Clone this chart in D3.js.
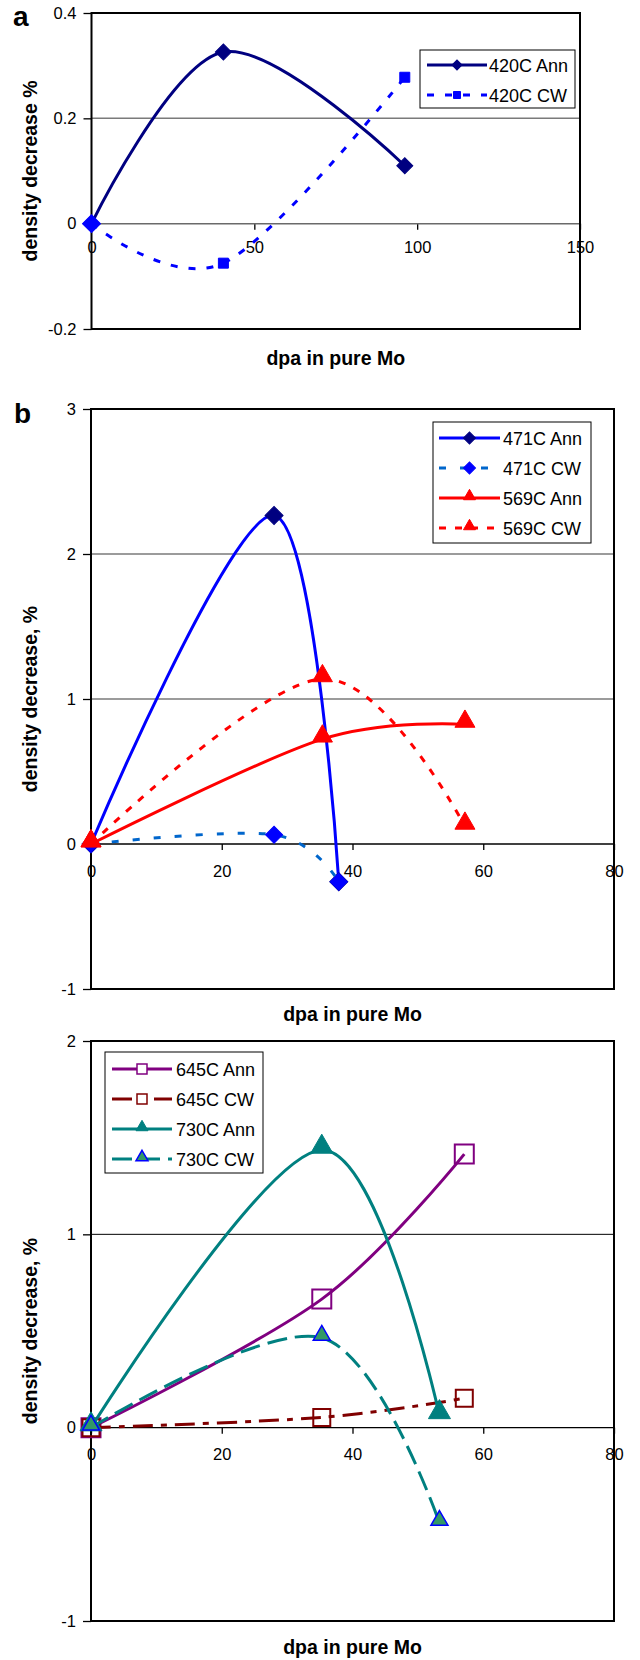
<!DOCTYPE html>
<html><head><meta charset="utf-8">
<script src="https://cdn.jsdelivr.net/npm/d3@7/dist/d3.min.js"></script>
<style>
body{margin:0;background:#fff}
svg{display:block}
text{font-family:"Liberation Sans",Arial,Helvetica,sans-serif;fill:#000}
</style>
</head><body>
<svg id="chart" width="640" height="1660"></svg>
<script>
// ---------- data ----------
const xTicksA = [0, 50, 100, 150];
const yTicksA = [-0.2, 0, 0.2, 0.4];
const xTicksBC = [0, 20, 40, 60, 80];
const yTicksB = [-1, 0, 1, 2, 3];
const yTicksC = [-1, 0, 1, 2];

const seriesNamesA = ["420C Ann", "420C CW"];
const seriesNamesB = ["471C Ann", "471C CW", "569C Ann", "569C CW"];
const seriesNamesC = ["645C Ann", "645C CW", "730C Ann", "730C CW"];

const dpa420 = [0, 40.5, 96.2];
const dens420Ann = [0, 0.326, 0.110];
const dens420CW = [0, -0.075, 0.278];

const dpa471 = [0, 28.0, 37.9];
const dens471Ann = [0, 2.266, -0.26];
const dens471CW = [0, 0.064, -0.26];

const dpa569 = [0, 35.4, 57.2];
const dens569Ann = [0, 0.723, 0.825];
const dens569CW = [0, 1.139, 0.122];

const dpa645 = [0, 35.3, 57.1];
const dens645Ann = [0, 0.665, 1.415];
const dens645CW = [0, 0.053, 0.152];

const dpa730 = [0, 35.3, 53.3];
const dens730Ann = [0, 1.436, 0.063];
const dens730CW = [0, 0.465, -0.492];

const xTitle = "dpa in pure Mo";

// ---------- panel definitions (layout + styles) ----------
const panels = [
  {
    label: "a", labelPos: [13, 26],
    left: 91.5, right: 580, top: 13, bottom: 329,
    xDomain: [0, 150], yDomain: [-0.2, 0.4], xTicks: xTicksA, yTicks: yTicksA,
    gridColor: "#7a7a7a", gridWidth: 1.5, zeroColor: "#6a6a6a", zeroWidth: 1.5,
    xLabelPad: 12, yTitle: "density decrease %", xTitleY: 365,
    legend: {x: 420, y: 50, w: 155, h: 58, row0: 65, dy: 30, lx0: 427, lx1: 487, textX: 489},
    series: [
      {name: seriesNamesA[0], x: dpa420, y: dens420Ann, color: "#000080", width: 3, dash: null,
       marker: "diamond", mSize: 16, fill: "#000080", stroke: "#000080", legSize: 10},
      {name: seriesNamesA[1], x: dpa420, y: dens420CW, color: "#0000FF", width: 3, dash: "7,11",
       marker: "square", mSize: 10, fill: "#0000FF", stroke: "#0000FF", legSize: 7,
       firstMarker: "diamond", firstSize: 18}
    ]
  },
  {
    label: "b", labelPos: [14, 423],
    left: 91, right: 614, top: 409, bottom: 989,
    xDomain: [0, 80], yDomain: [-1, 3], xTicks: xTicksBC, yTicks: yTicksB,
    gridColor: "#7a7a7a", gridWidth: 1.5, zeroColor: "#000", zeroWidth: 1.3,
    xLabelPad: 15, yTitle: "density decrease, %", xTitleY: 1021,
    legend: {x: 433, y: 422, w: 158, h: 121, row0: 438, dy: 30, lx0: 439, lx1: 500, textX: 503},
    series: [
      {name: seriesNamesB[0], x: dpa471, y: dens471Ann, color: "#0000FF", width: 3, dash: null,
       marker: "diamond", mSize: 18, fill: "#000080", stroke: "#000080", legSize: 12},
      {name: seriesNamesB[1], x: dpa471, y: dens471CW, color: "#0066CC", width: 3, dash: "7,14",
       marker: "diamond", mSize: 17, fill: "#0000FF", stroke: "#0000FF", legSize: 12},
      {name: seriesNamesB[2], x: dpa569, y: dens569Ann, color: "#FF0000", width: 3, dash: null,
       marker: "triangle", mSize: 20, fill: "#FF0000", stroke: "#FF0000", legSize: 12},
      {name: seriesNamesB[3], x: dpa569, y: dens569CW, color: "#FF0000", width: 3, dash: "7,9",
       marker: "triangle", mSize: 20, fill: "#FF0000", stroke: "#FF0000", legSize: 12}
    ]
  },
  {
    label: null,
    left: 91, right: 614, top: 1041, bottom: 1621,
    xDomain: [0, 80], yDomain: [-1, 2], xTicks: xTicksBC, yTicks: yTicksC,
    gridColor: "#000", gridWidth: 1, zeroColor: "#000", zeroWidth: 1.3,
    xLabelPad: 15, yTitle: "density decrease, %", xTitleY: 1654,
    legend: {x: 105, y: 1052, w: 158, h: 121, row0: 1069, dy: 30, lx0: 112, lx1: 172, textX: 176},
    series: [
      {name: seriesNamesC[0], x: dpa645, y: dens645Ann, color: "#800080", width: 3, dash: null,
       marker: "square", mSize: 19, fill: "none", stroke: "#800080", mStrokeW: 2, legSize: 10},
      {name: seriesNamesC[1], x: dpa645, y: dens645CW, color: "#800000", width: 3, dash: "20,8,6,8",
       marker: "square", mSize: 17, fill: "none", stroke: "#800000", mStrokeW: 2, legSize: 10},
      {name: seriesNamesC[2], x: dpa730, y: dens730Ann, color: "#008080", width: 3, dash: null,
       marker: "triangle", mSize: 22, fill: "#008080", stroke: "#008080", legSize: 12},
      {name: seriesNamesC[3], x: dpa730, y: dens730CW, color: "#008080", width: 3, dash: "20,8",
       marker: "triangle", mSize: 17, fill: "#339966", stroke: "#0000FF", mStrokeW: 1.5, legSize: 12}
    ]
  }
];

const svg = d3.select("#chart");
const TICK_FONT = 16.5;

// marker path generator; size = visible width in px
function markerPath(type, w) {
  if (type === "diamond") return d3.symbol().type(d3.symbolSquare).size((w / Math.SQRT2) ** 2)();
  if (type === "square") return d3.symbol().type(d3.symbolSquare).size(w * w)();
  if (type === "triangle") return d3.symbol().type(d3.symbolTriangle).size(Math.sqrt(3) / 4 * w * w)();
  return null;
}
function markerTransform(type, px, py, w) {
  if (type === "diamond") return `translate(${px},${py}) rotate(45)`;
  if (type === "triangle") {
    const h = w * Math.sqrt(3) / 2;
    return `translate(${px},${py + h / 2 - h * 2 / 3})`;
  }
  return `translate(${px},${py})`;
}

panels.forEach(p => {
  const x = d3.scaleLinear().domain(p.xDomain).range([p.left, p.right]);
  const y = d3.scaleLinear().domain(p.yDomain).range([p.bottom, p.top]);
  const g = svg.append("g");

  // gridlines
  p.yTicks.filter(v => v !== 0 && v !== p.yDomain[0] && v !== p.yDomain[1]).forEach(v => {
    g.append("line").attr("x1", p.left).attr("x2", p.right)
      .attr("y1", y(v)).attr("y2", y(v))
      .attr("stroke", p.gridColor).attr("stroke-width", p.gridWidth);
  });

  // x axis (crosses at 0)
  const xAxis = d3.axisBottom(x).tickValues(p.xTicks).tickSize(6).tickPadding(p.xLabelPad)
    .tickFormat(d => String(d));
  const gx = g.append("g").attr("transform", `translate(0,${y(0)})`).call(xAxis);
  gx.select(".domain").remove();
  gx.selectAll(".tick line").attr("stroke", "#000").attr("stroke-width", 1.3);
  gx.selectAll(".tick text").attr("font-size", TICK_FONT).attr("fill", "#000")
    .style("font-family", '"Liberation Sans",Arial,sans-serif');

  g.append("line").attr("x1", p.left).attr("x2", p.right)
    .attr("y1", y(0)).attr("y2", y(0))
    .attr("stroke", p.zeroColor).attr("stroke-width", p.zeroWidth);

  // y axis
  const yAxis = d3.axisLeft(y).tickValues(p.yTicks).tickSize(8).tickPadding(7)
    .tickFormat(d => String(d));
  const gy = g.append("g").attr("transform", `translate(${p.left},0)`).call(yAxis);
  gy.select(".domain").remove();
  gy.selectAll(".tick line").attr("stroke", "#000").attr("stroke-width", 1.3);
  gy.selectAll(".tick text").attr("font-size", TICK_FONT).attr("fill", "#000")
    .style("font-family", '"Liberation Sans",Arial,sans-serif');

  // frame
  g.append("rect").attr("x", p.left).attr("y", p.top)
    .attr("width", p.right - p.left).attr("height", p.bottom - p.top)
    .attr("fill", "none").attr("stroke", "#000").attr("stroke-width", 2);

  // series
  const line = d3.line().x(d => x(d[0])).y(d => y(d[1])).curve(d3.curveCardinal.tension(0));
  p.series.forEach(s => {
    const pts = s.x.map((v, i) => [v, s.y[i]]);
    g.append("path").attr("d", line(pts)).attr("fill", "none")
      .attr("stroke", s.color).attr("stroke-width", s.width)
      .attr("stroke-dasharray", s.dash).attr("stroke-linejoin", "round");
    pts.forEach((d, i) => {
      const type = (i === 0 && s.firstMarker) ? s.firstMarker : s.marker;
      const w = (i === 0 && s.firstSize) ? s.firstSize : s.mSize;
      g.append("path").attr("d", markerPath(type, w))
        .attr("transform", markerTransform(type, x(d[0]), y(d[1]), w))
        .attr("fill", s.fill).attr("stroke", s.stroke).attr("stroke-width", s.mStrokeW || 1);
    });
  });

  // legend
  const L = p.legend;
  g.append("rect").attr("x", L.x).attr("y", L.y).attr("width", L.w).attr("height", L.h)
    .attr("fill", "#fff").attr("stroke", "#000").attr("stroke-width", 1);
  p.series.forEach((s, i) => {
    const cy = L.row0 + i * L.dy;
    g.append("line").attr("x1", L.lx0).attr("x2", L.lx1).attr("y1", cy).attr("y2", cy)
      .attr("stroke", s.color).attr("stroke-width", s.width).attr("stroke-dasharray", s.dash);
    const mx = (L.lx0 + L.lx1) / 2;
    g.append("path").attr("d", markerPath(s.marker, s.legSize))
      .attr("transform", markerTransform(s.marker, mx, cy, s.legSize))
      .attr("fill", s.fill === "none" ? "#fff" : s.fill).attr("stroke", s.stroke)
      .attr("stroke-width", s.mStrokeW ? Math.min(s.mStrokeW, 1.5) : 1);
    g.append("text").attr("x", L.textX).attr("y", cy + 6.5).attr("font-size", 18).text(s.name);
  });

  // titles
  g.append("text").attr("x", (p.left + p.right) / 2).attr("y", p.xTitleY)
    .attr("text-anchor", "middle").attr("font-size", 19.5).attr("font-weight", "bold").text(xTitle);
  g.append("text").attr("transform", `translate(37,${(p.top + p.bottom) / 2}) rotate(-90)`)
    .attr("text-anchor", "middle").attr("font-size", 19.5).attr("font-weight", "bold").text(p.yTitle);
  if (p.label) {
    g.append("text").attr("x", p.labelPos[0]).attr("y", p.labelPos[1])
      .attr("font-size", 28).attr("font-weight", "bold").text(p.label);
  }
});
</script>
</body></html>
